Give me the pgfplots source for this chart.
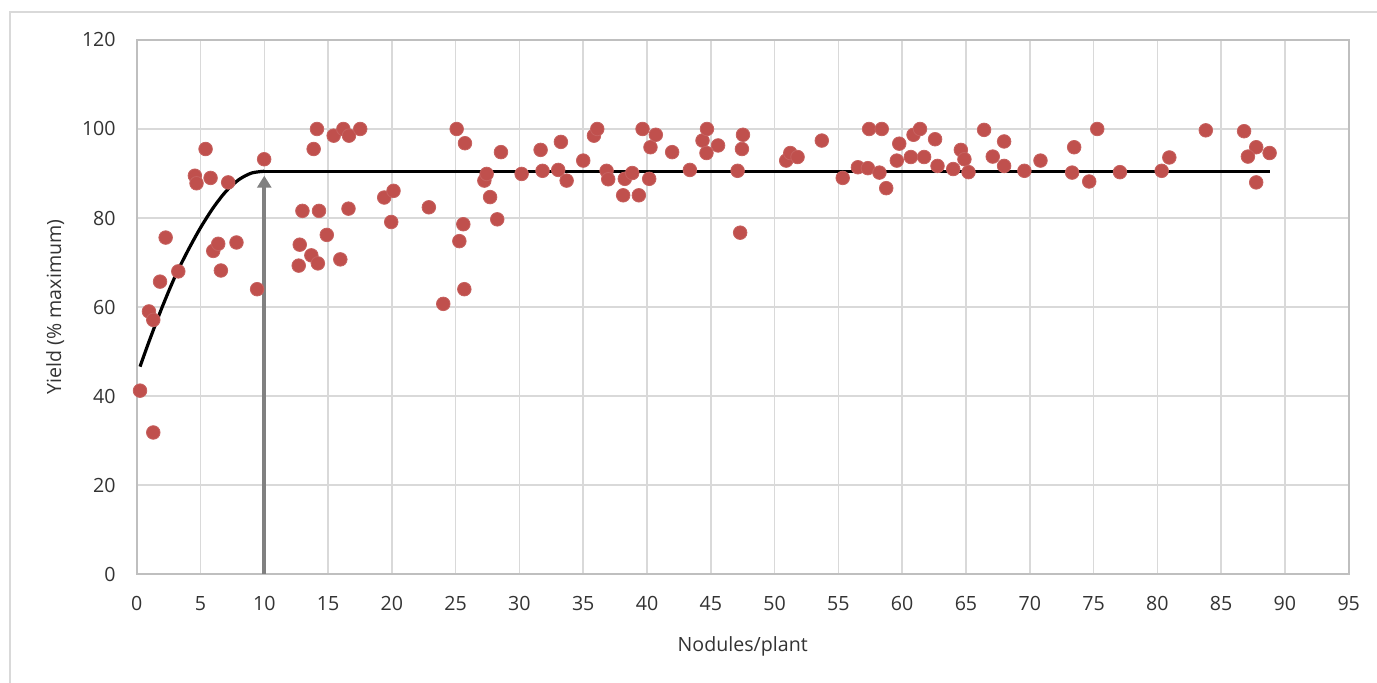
\documentclass[border=0pt]{standalone}
\usepackage{fontspec}
\setmainfont{Open Sans}
\usepackage{pgfplots}
\pgfplotsset{compat=1.18}
\usetikzlibrary{arrows.meta}

\definecolor{dotred}{HTML}{C0504D}
\definecolor{gridgray}{HTML}{D9D9D9}
\definecolor{axisgray}{HTML}{BFBFBF}
\definecolor{arrowgray}{HTML}{808080}
\definecolor{txt}{HTML}{333333}

\begin{document}
\begin{tikzpicture}
\useasboundingbox (-68.35pt,-54.5pt) rectangle (620.15pt,287pt);
% outer chart frame (left and top edges show)
\draw[gridgray, line width=1pt] (-63.35pt,-60pt) -- (-63.35pt,281pt) -- (630pt,281pt);
\begin{axis}[
    scale only axis,
    width=606pt,
    height=267pt,
    xmin=0, xmax=95,
    ymin=0, ymax=120,
    xtick={0,5,...,95},
    ytick={0,20,...,120},
    major tick length=0pt,
    grid=major,
    grid style={gridgray, line width=0.75pt},
    axis line style={axisgray, line width=0.9pt},
    font=\fontsize{9.8}{11}\selectfont,
    tick label style={txt, font=\fontsize{9.8}{11}\selectfont},
    /pgf/number format/assume math mode=true,
    xticklabel style={yshift=-7.5pt},
    yticklabel style={xshift=-7pt},
    xlabel={Nodules/plant},
    ylabel={Yield (\% maximum)},
    label style={txt, font=\fontsize{9.8}{11}\selectfont},
    xlabel style={yshift=-6pt},
    ylabel style={yshift=2pt},
    clip=false,
]
% gray arrow at 10 nodules/plant
\addplot[arrowgray, line width=2pt, -{Triangle[width=7pt,length=6pt]}]
    coordinates {(10,0) (10,89.5)};

% fitted quadratic-plateau curve
\addplot[black, line width=1.6pt, smooth]
    coordinates {
    (0.26,46.6) (1,52.5) (2,60.0) (3,66.8) (4,72.6) (5,77.8)
    (6,82.3) (7,86.0) (8,88.6) (9,90.1) (10,90.5)
    };
\addplot[black, line width=1.6pt]
    coordinates {(10.0,90.5) (88.85,90.5)};

% observations
\addplot[only marks, mark=*, mark size=3.4pt,
    mark options={fill=dotred, draw=dotred!90!white}]
    coordinates {
    (0.26,41.2) (1.30,31.8) (0.96,59.0) (1.30,57.1) (1.83,65.7)
    (2.27,75.6) (3.26,68.0) (4.56,89.5) (4.69,87.8) (5.40,95.5)
    (5.79,89.0) (6.00,72.6) (6.39,74.2) (6.60,68.2) (7.17,88.0)
    (7.82,74.5) (9.44,64.0) (9.99,93.2) (12.70,69.3) (12.78,74.0)
    (12.99,81.6) (13.69,71.6) (14.20,69.8) (14.29,81.6) (13.87,95.5)
    (14.13,100) (14.90,76.2) (15.44,98.5) (15.96,70.7) (16.20,100)
    (16.64,98.5) (16.60,82.1) (17.52,100) (19.40,84.6) (20.13,86.1)
    (19.95,79.1) (22.90,82.4)
    (24.03,60.7) (25.08,100) (25.73,96.8) (25.68,64.0) (25.29,74.8)
    (25.60,78.6) (27.25,88.4) (27.43,89.9) (27.70,84.7) (28.26,79.7)
    (28.55,94.8) (30.17,89.9) (31.66,95.3) (31.81,90.6) (33.04,90.8)
    (33.25,97.1) (33.70,88.4) (35.00,92.9) (35.84,98.5) (36.10,100)
    (36.83,90.6) (36.96,88.7) (38.13,85.1) (38.26,88.8) (38.84,90.1)
    (39.36,85.1) (39.65,100) (40.17,88.8) (40.27,95.9) (40.69,98.7)
    (41.97,94.8) (43.36,90.8) (44.35,97.4) (44.70,100) (44.66,94.6)
    (45.57,96.3)
    (47.52,98.7) (47.44,95.5) (47.10,90.6) (47.30,76.7) (50.91,92.9)
    (51.23,94.6) (51.80,93.7) (53.70,97.4) (55.34,89.0) (56.53,91.4)
    (57.31,91.2) (57.41,100) (58.40,100) (58.22,90.2) (58.75,86.7)
    (59.58,92.9) (59.77,96.7) (60.68,93.7) (60.89,98.7) (61.40,100)
    (61.72,93.7) (62.58,97.7) (62.77,91.7) (64.00,91.0) (64.60,95.3)
    (64.88,93.2) (65.20,90.3) (66.42,99.8) (67.10,93.8) (67.99,97.2)
    (67.99,91.7) (69.58,90.6)
    (70.84,92.9) (73.32,90.2) (73.48,95.9) (74.66,88.2) (75.29,100)
    (77.07,90.3) (80.34,90.6) (80.94,93.6) (83.80,99.7) (86.80,99.5)
    (87.75,95.9) (87.10,93.8) (88.80,94.6) (87.75,88.0)
    };
\end{axis}
\end{tikzpicture}
\end{document}
